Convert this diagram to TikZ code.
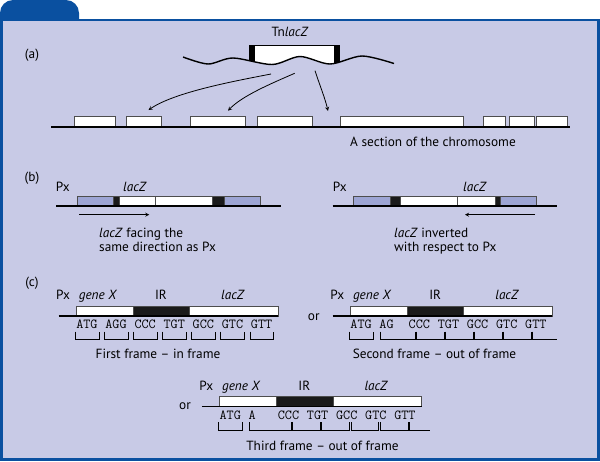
\documentclass[tikz,border=0pt]{standalone}
\usepackage{fontspec}
\setmainfont{PT Sans}
\usepackage{tikz}
\usetikzlibrary{arrows}
\definecolor{panelfill}{HTML}{C8CAE6}
\definecolor{frameblue}{HTML}{0A50A0}
\definecolor{genblue}{HTML}{9DA5D4}
\definecolor{boxline}{HTML}{4D4D4D}
\definecolor{irblack}{HTML}{1A1A1A}
\newcommand{\codonw}{7.28}
\tikzset{
  lbl/.style={inner sep=0pt,anchor=base,font=\fontsize{13.3}{15}\selectfont},
  codon/.style={inner sep=0pt,anchor=base,font=\ttfamily\fontsize{13.8}{15}\selectfont},
  dna/.style={line width=1.4pt},
  genbox/.style={draw=boxline,line width=0.6pt},
  brk/.style={line width=0.8pt},
  jump/.style={->,line width=0.8pt},
}
\begin{document}
\begin{tikzpicture}[x=1pt,y=-1pt,>=stealth]
\useasboundingbox (0,0) rectangle (600,461);
\fill[frameblue,rounded corners=13pt] (0,40) -- (0,0) -- (79,0) -- (79,40) -- cycle;
\fill[frameblue] (0,19.3) rectangle (600,461);
\fill[panelfill] (2.7,20.8) rectangle (597.3,458.2);

\node[lbl] (alabel) at (32,58) {(a)};
\node[lbl] (tnlabel) at (290,36.7) {Tn\textit{lacZ}};
\begin{scope}
\clip (183,30) -- plot[smooth] coordinates {(183,57) (208,64) (233,58) (272,64.5) (300,56.5) (330,64) (362,56) (394,63.5)} -- (394,30) -- cycle;
\fill[white] (249,45) rectangle (340,70);
\fill[black] (249,45) rectangle (255,70);
\fill[black] (334,45) rectangle (340,70);
\end{scope}
\draw[line width=0.7pt] (249,45) -- (340,45);
\draw[dna] plot[smooth] coordinates {(183,57) (208,64) (233,58) (272,64.5) (300,56.5) (330,64) (362,56) (394,63.5)};
\foreach \l/\r in {73.9/115.2,126.7/161.1,190.2/245.7,256.8/312.7,339.8/463,483.3/505.7,508.8/533.8,536.5/567.3}
  \filldraw[genbox,fill=white] (\l,116.5) rectangle (\r,127);
\draw[dna] (51,127) -- (570,127);
\node[lbl] (chrlabel) at (433,146.5) {A section of the chromosome};
\coordinate (tn1) at (271,74);
\coordinate (tn2) at (294.7,73.3);
\coordinate (tn3) at (315,70.7);
\coordinate (site1) at (148.5,110);
\coordinate (site2) at (228,110.7);
\coordinate (site3) at (328,111);
\draw[jump] (tn1) .. controls (235,81) and (175,92) .. (site1);
\draw[jump] (tn2) .. controls (270,84) and (242,96) .. (site2);
\draw[jump] (tn3) .. controls (320,86) and (325,98) .. (site3);

\node[lbl] (blabel) at (32,181) {(b)};
\node[lbl] (fwpx) at (62.7,191.7) {Px};
\node[lbl] (fwlac) at (135,191.7) {\textit{lacZ}};
\foreach \l/\r/\c in {77.3/113.3/genblue,113.3/119/irblack,119/155.7/white,155.7/212.7/white,212.7/223.9/irblack,223.9/259.9/genblue}
  \filldraw[genbox,fill=\c] (\l,196) rectangle (\r,206);
\draw[dna] (56,206) -- (281,206);
\coordinate (fwA) at (79.3,214.7);
\coordinate (fwB) at (149.3,214.7);
\draw[jump] (fwA) -- (fwB);
\node[lbl,anchor=base west] (fwtxt1) at (99,237) {\textit{lacZ} facing the};
\node[lbl,anchor=base west] (fwtxt2) at (99,251) {same direction as Px};
\node[lbl] (invpx) at (339.7,191.7) {Px};
\node[lbl] (invlac) at (475,191.7) {\textit{lacZ}};
\foreach \l/\r/\c in {353.3/390/genblue,390/400.7/irblack,400.7/457.7/white,457.7/495/white,495/500.2/irblack,500.2/536.7/genblue}
  \filldraw[genbox,fill=\c] (\l,196) rectangle (\r,206);
\draw[dna] (332.7,206) -- (557.3,206);
\coordinate (invA) at (535,214.7);
\coordinate (invB) at (465,214.7);
\draw[jump] (invA) -- (invB);
\node[lbl,anchor=base west] (invtxt1) at (394,237) {\textit{lacZ} inverted};
\node[lbl,anchor=base west] (invtxt2) at (394,251) {with respect to Px};

\node[lbl] (clabel) at (32,286) {(c)};
\foreach \rx/\ry/\rn in {76/316/f,350.2/316/s,219.3/406.7/t}{
  \begin{scope}[shift={(\rx,\ry)}]
  \filldraw[genbox,fill=white] (0,-10) rectangle (57.3,0);
  \filldraw[genbox,fill=irblack] (57.3,-10) rectangle (113.5,0);
  \filldraw[genbox,fill=white] (113.5,-10) rectangle (202.2,0);
  \draw[dna] (-17.5,0) -- (202.2,0);
  \node[lbl] (\rn-px) at (-13,-16.5) {Px};
  \node[lbl] (\rn-gene) at (22,-16.5) {\textit{gene X}};
  \node[lbl] (\rn-ir) at (85,-16.5) {IR};
  \node[lbl] (\rn-lac) at (157,-16.5) {\textit{lacZ}};
  \end{scope}
}
\foreach \c/\p [count=\i] in {ATG/1.5,AGG/5.5,CCC/9.5,TGT/13.5,GCC/17.5,GTC/21.5,GTT/25.5}
  \node[codon] (fc\i) at ({76+\p*\codonw},328.3) {\c};
\foreach \a/\b in {0/3,4/7,8/11,12/15,16/19,20/23,24/27}
  \draw[brk] ({76+\a*\codonw-0.8},331.5) |- ({76+\b*\codonw+1.2},339.5) -- ++(0,-8);
\node[lbl] (fcap) at (158,358.5) {First frame – in frame};

\node[lbl] (or1) at (313.8,320) {or};
\foreach \c/\p [count=\i] in {ATG/1.5,AG/5,CCC/9.5,TGT/13.5,GCC/17.5,GTC/21.5,GTT/25.5}
  \node[codon] (sc\i) at ({350.2+\p*\codonw},328.3) {\c};
\draw[brk] ({350.2-0.8},331.5) |- ({350.2+3*\codonw+1.2},339.5) -- ++(0,-8);
\foreach \a/\b in {4/9,9/13,13/17,17/21,21/25}
  \draw[brk] ({350.2+\a*\codonw+0.6},331.5) |- ({350.2+\b*\codonw-0.6},339.5) -- ++(0,-8);
\draw[brk] ({350.2+25*\codonw+0.6},331.5) |- ({350.2+28.4*\codonw},339.5);
\node[lbl] (scap) at (434.5,358.5) {Second frame – out of frame};

\node[lbl] (or2) at (185,409.5) {or};
\foreach \c/\p [count=\i] in {ATG/1.5,A/4.5,CCC/9.5,TGT/13.5,GCC/17.5,GTC/21.5,GTT/25.5}
  \node[codon] (tc\i) at ({219.3+\p*\codonw},419) {\c};
\draw[brk] ({219.3-0.8},422.2) |- ({219.3+3*\codonw+1.2},430.2) -- ++(0,-8);
\foreach \a/\b in {4/10,10/14,14/18,18/22,22/26}
  \draw[brk] ({219.3+\a*\codonw+0.6},422.2) |- ({219.3+\b*\codonw-0.6},430.2) -- ++(0,-8);
\draw[brk] ({219.3+26*\codonw+0.6},422.2) |- ({219.3+29*\codonw},430.2);
\node[lbl] (tcap) at (322.5,450) {Third frame – out of frame};
\end{tikzpicture}
\end{document}
